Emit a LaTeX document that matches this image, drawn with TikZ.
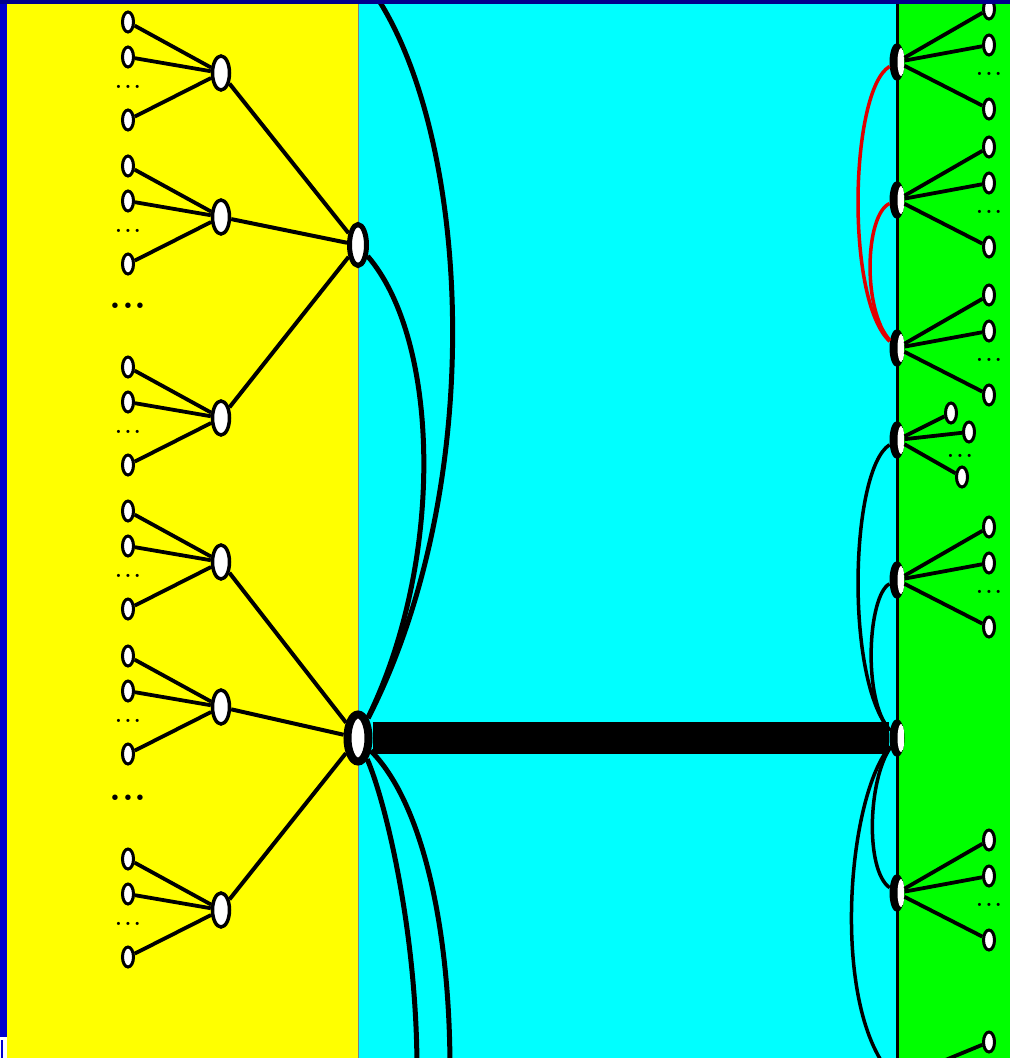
\documentclass[tikz,border=0pt]{standalone}
\usetikzlibrary{shapes.geometric}
\definecolor{SlideBlue}{HTML}{0000CC}
\definecolor{SlideNavy}{HTML}{00008C}
\definecolor{PanelYellow}{HTML}{FFFF00}
\definecolor{PanelCyan}{HTML}{00FFFF}
\definecolor{PanelGreen}{HTML}{00FF00}
\definecolor{LinkRed}{HTML}{E00000}

\begin{document}
\begin{tikzpicture}[x=1pt,y=-1pt,
  leaf/.style={ellipse,draw=black,fill=white,line width=3pt,minimum width=11pt,minimum height=20pt,inner sep=0pt},
  midnode/.style={leaf,line width=3.5pt,minimum width=17pt,minimum height=34pt},
  hubnode/.style={leaf,line width=5pt,minimum width=17pt,minimum height=41pt},
  hubbig/.style={leaf,line width=8pt,minimum width=21pt,minimum height=47pt},
  rnode/.style={ellipse,fill=black,minimum width=15pt,minimum height=38pt,inner sep=0pt,
    path picture={\fill[white] ([xshift=4pt]path picture bounding box.center) ellipse (3.5pt and 14pt);}},
  twig/.style={line width=3.8pt},
  branch/.style={line width=4pt},
  arc/.style={line width=5pt},
  rarc/.style={line width=3.5pt},
  redarc/.style={rarc,draw=LinkRed},
  dots/.style={inner sep=0pt,font=\bfseries\fontsize{22}{22}\selectfont},
  bigdots/.style={inner sep=0pt,font=\bfseries\fontsize{38}{38}\selectfont}]
  \useasboundingbox (0,0) rectangle (1010,1058);
  \clip (0,0) rectangle (1010,1058);

  % panels
  \fill[PanelYellow] (7,0) rectangle (358,1058);
  \fill[PanelCyan] (358,0) rectangle (897,1058);
  \fill[PanelGreen] (897,0) rectangle (1010,1058);
  \draw[gray,line width=1pt] (358,0) -- (358,1058);
  \draw[line width=3pt] (897,0) -- (897,1058);

  % left trees
  \node[hubnode] (hubA) at (358,245) {};
  \node[hubbig] (hubB) at (358,738) {};
  \foreach \m [count=\i] in {73,217,418,562,707,910} {
    \node[midnode] (m\i) at (221,\m) {};
    \node[leaf] (l\i-1) at (128,{\m-51}) {};
    \node[leaf] (l\i-2) at (128,{\m-16}) {};
    \node[leaf] (l\i-3) at (128,{\m+47}) {};
    \node[dots] at (128,{\m+14}) {.\kern2.5pt.\kern2.5pt.};
    \foreach \k in {1,2,3} \draw[twig] (l\i-\k) -- (m\i);
  }
  \node[bigdots] at (128,306) {.\kern1pt.\kern1pt.};
  \node[bigdots] at (128,798) {.\kern1pt.\kern1pt.};
  \foreach \i in {1,2,3} \draw[branch] (m\i) -- (hubA);
  \foreach \i in {4,5,6} \draw[branch] (m\i) -- (hubB);

  % right trees
  \foreach \j/\r in {1/62,2/200,3/348,5/580,7/893} {
    \node[rnode] (r\j) at (897,\r) {};
    \node[leaf] (r\j-1) at (989,{\r-53}) {};
    \node[leaf] (r\j-2) at (989,{\r-17}) {};
    \node[leaf] (r\j-3) at (989,{\r+47}) {};
    \node[dots] at (989,{\r+12}) {.\kern2.5pt.\kern2.5pt.};
    \foreach \k in {1,2,3} \draw[twig] (r\j) -- (r\j-\k);
  }
  \node[rnode] (r4) at (897,440) {};
  \node[leaf] (r4-1) at (951,413) {};
  \node[leaf] (r4-2) at (969,432) {};
  \node[leaf] (r4-3) at (962,477) {};
  \node[dots] at (960,456) {.\kern2.5pt.\kern2.5pt.};
  \foreach \k in {1,2,3} \draw[twig] (r4) -- (r4-\k);
  \node[rnode] (r6) at (897,738) {};
  \coordinate (r8) at (897,1080);
  \node[leaf] (r8-1) at (989,1042) {};
  \draw[twig] (r8) -- (r8-1);

  % trunk between the hubs
  \draw[line width=32pt] (hubB) -- (r6);

  % left links
  \coordinate (ctop) at (372,-10);
  \coordinate (cbot1) at (417,1070);
  \coordinate (cbot2) at (450,1070);
  \draw[arc] (hubA) .. controls (440,340) and (445,560) .. (hubB);
  \draw[arc] (ctop) .. controls (470,130) and (490,480) .. (hubB);
  \draw[arc] (hubB) .. controls (385,800) and (417,930) .. (cbot1);
  \draw[arc] (hubB) .. controls (420,800) and (450,920) .. (cbot2);

  % right links
  \draw[redarc] (r1) .. controls (850,90) and (845,300) .. (r3);
  \draw[redarc] (r2) .. controls (865,215) and (862,310) .. (r3);
  \draw[rarc] (r4) .. controls (850,470) and (845,680) .. (r6);
  \draw[rarc] (r5) .. controls (868,595) and (862,700) .. (r6);
  \draw[rarc] (r6) .. controls (868,780) and (865,870) .. (r7);
  \draw[rarc] (r6) .. controls (845,800) and (830,1020) .. (r8);

  % slide frame
  \fill[SlideBlue] (0,0) rectangle (7,1037);
  \fill[white] (0,1037) rectangle (7,1058);
  \fill[SlideBlue] (1,1040) rectangle (3,1058);
  \fill[SlideNavy] (0,0) rectangle (1010,4);
\end{tikzpicture}
\end{document}
